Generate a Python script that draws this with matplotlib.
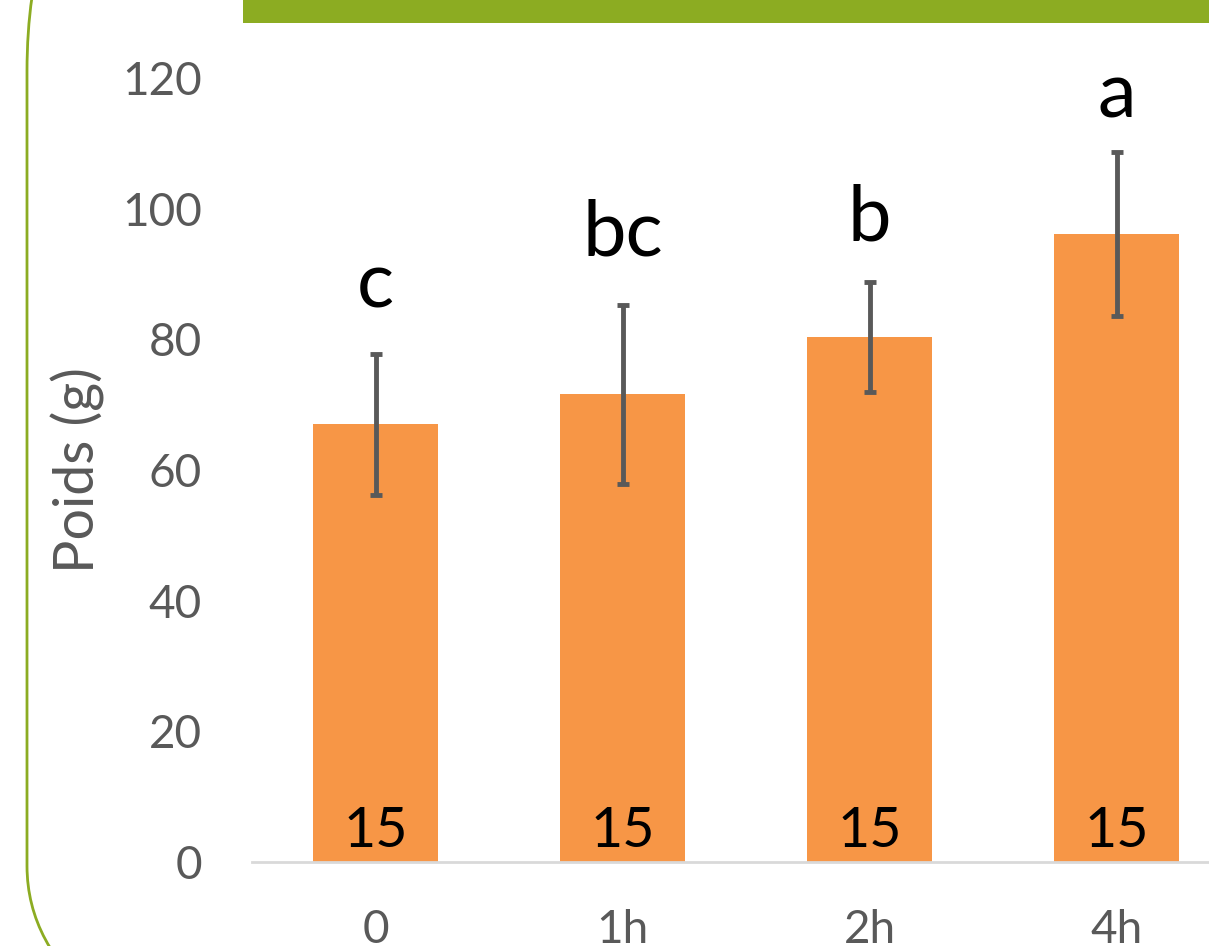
import matplotlib.pyplot as plt
from matplotlib.patches import FancyBboxPatch, Rectangle

plt.rcParams['font.family'] = ['Lato', 'DejaVu Sans']

# data
categories = ['0', '1h', '2h', '4h']
poids = [67.0, 71.6, 80.4, 96.1]
erreurs = [10.8, 13.7, 8.4, 12.5]
lettres = ['c', 'bc', 'b', 'a']
lettres_y = [84.8, 92.9, 95.2, 113.9]
effectifs = ['15', '15', '15', '15']

W, H = 1209, 946
fig = plt.figure(figsize=(W / 100, H / 100), dpi=100)

# decorative frame (rounded border + green band), pixel coordinates
deco = fig.add_axes([0, 0, 1, 1])
deco.set_xlim(0, W)
deco.set_ylim(H, 0)
deco.axis('off')
deco.add_patch(FancyBboxPatch((27, -244), 1500, 1425,
                              boxstyle='round,pad=0,rounding_size=315',
                              fill=False, edgecolor='#8CAC22', linewidth=2))
deco.add_patch(Rectangle((243, 0), W - 243, 23, color='#8CAC22', linewidth=0))

ax = fig.add_axes([252 / W, 1 - 862 / H, (1240 - 252) / W, (862 - 78) / H])
x = range(len(categories))
ax.bar(x, poids, width=0.506, color='#F79646', zorder=2)
ax.errorbar(x, poids, yerr=erreurs, fmt='none', ecolor='#595959',
            elinewidth=3.5, capsize=4.5, capthick=3.5, zorder=3)

for i in x:
    ax.text(i, lettres_y[i], lettres[i], ha='center', va='baseline',
            fontsize=56, color='black')
    ax.text(i, 2.3, effectifs[i], ha='center', va='baseline',
            fontsize=40, color='black', zorder=4)

ax.set_xlim(-0.5, 3.5)
ax.set_ylim(0, 120)
ax.set_yticks(range(0, 121, 20))
ax.set_xticks(list(x))
ax.set_xticklabels(categories)
ax.tick_params(axis='both', length=0, labelsize=33, labelcolor='#595959')
ax.tick_params(axis='y', pad=36)
ax.tick_params(axis='x', pad=34)
ax.set_ylabel('Poids (g)', fontsize=40, color='#595959', labelpad=12)
for s in ['top', 'right', 'left']:
    ax.spines[s].set_visible(False)
ax.spines['bottom'].set_color('#D9D9D9')
ax.spines['bottom'].set_linewidth(2)
ax.patch.set_visible(False)

fig.savefig('out.png', dpi=100)
